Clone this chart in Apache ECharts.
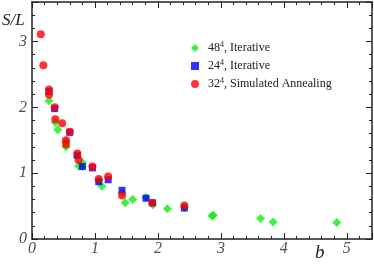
<!DOCTYPE html>
<html><head><meta charset="utf-8">
<script src="https://cdn.jsdelivr.net/npm/echarts@6/dist/echarts.min.js"></script>
<style>html,body{margin:0;padding:0;background:#fff}#c{width:374px;height:264px}</style>
</head><body><div id="c"></div>
<script>
// 48^4 iterative (green diamonds)
const greenX = [0.27,0.37,0.41,0.54,0.54,0.72,0.74,0.80,0.80,1.06,1.11,1.43,1.48,1.60,1.81,1.92,2.15,2.42,2.86,2.88,3.63,3.83,4.84];
const greenY = [2.10,1.77,1.66,1.48,1.40,1.25,1.11,1.16,1.10,0.89,0.80,0.70,0.55,0.60,0.63,0.52,0.46,0.48,0.35,0.36,0.31,0.26,0.25];
// 24^4 iterative (blue squares)
const blueX = [0.27,0.36,0.60,0.72,0.80,0.96,1.06,1.21,1.43,1.81,1.91,2.42];
const blueY = [2.24,1.98,1.62,1.27,1.10,1.08,0.87,0.90,0.74,0.62,0.55,0.47];
// 32^4 simulated annealing (red circles)
const redX = [0.14,0.18,0.27,0.27,0.36,0.37,0.48,0.54,0.54,0.60,0.72,0.74,0.96,1.06,1.21,1.43,1.91,2.42];
const redY = [3.11,2.64,2.27,2.19,2.00,1.82,1.76,1.50,1.44,1.63,1.30,1.20,1.10,0.91,0.95,0.66,0.55,0.51];
const seriesNames = ['48{s|4}, Iterative','24{s|4}, Iterative','32{s|4}, Simulated Annealing'];
const xTickLabels = ['0','1','2','3','4','5'];
const yTickLabels = ['0','1','2','3'];

const zip = (a,b) => a.map((v,i)=>[v,b[i]]);
const FONT = 'Liberation Serif';
const lineStyle = {color:'#222', width:1.5};
function axisBase(pos, max){
  return {
    type:'value', min:0, max:max, interval:1, position:pos,
    axisLine:{show:true, onZero:false, lineStyle:lineStyle},
    axisTick:{show:true, inside:true, length:6, lineStyle:{color:'#222', width:1}},
    minorTick:{show:true, splitNumber:5, length:3, lineStyle:{color:'#222', width:1}},
    splitLine:{show:false}, minorSplitLine:{show:false},
    axisLabel:{show:false}
  };
}
const tickLabelStyle = {show:true, fontFamily:FONT, fontStyle:'italic', fontSize:16, color:'#222',
  formatter:(p)=>p.data.label};
const chart = echarts.init(document.getElementById('c'), null, {renderer:'canvas'});
chart.setOption({
  animation:false,
  grid:{left:32, right:2, top:2, bottom:25, containLabel:false},
  xAxis:[axisBase('bottom',5.4), axisBase('top',5.4)],
  yAxis:[axisBase('left',3.6), axisBase('right',3.6)],
  legend:{
    orient:'vertical', left:186, top:36, itemWidth:8, itemHeight:8, itemGap:4,
    textStyle:{fontFamily:FONT, fontSize:12, color:'#222', padding:[0,0,0,4], lineHeight:14,
      rich:{s:{fontFamily:FONT, fontSize:8, color:'#222', padding:[0,0,6,0]}}},
    data:[
      {name:seriesNames[0], icon:'diamond'},
      {name:seriesNames[1], icon:'rect'},
      {name:seriesNames[2], icon:'circle'}
    ]
  },
  graphic:[
    {type:'text', left:2, top:12, style:{text:'S/L', fontFamily:FONT, fontStyle:'italic', fontSize:17, fill:'#222'}},
    {type:'text', left:315, top:243, style:{text:'b', fontFamily:FONT, fontStyle:'italic', fontSize:19, fill:'#222'}}
  ],
  series:[
    {name:seriesNames[0], type:'scatter', symbol:'diamond', symbolSize:9, itemStyle:{color:'#11ee11'}, data:zip(greenX,greenY), z:2},
    {name:seriesNames[1], type:'scatter', symbol:'rect', symbolSize:7, itemStyle:{color:'#0000ff'}, data:zip(blueX,blueY), z:3},
    {name:seriesNames[2], type:'scatter', symbol:'circle', symbolSize:8, itemStyle:{color:'#ff0000'}, data:zip(redX,redY), z:4},
    {name:'xticks', type:'scatter', symbolSize:0, clip:false, silent:true, z:5,
      label:Object.assign({position:'bottom', distance:2}, tickLabelStyle),
      data:xTickLabels.map(s=>({value:[Number(s),0], label:s}))},
    {name:'yticks', type:'scatter', symbolSize:0, clip:false, silent:true, z:5,
      label:Object.assign({position:'left', distance:5}, tickLabelStyle),
      data:yTickLabels.map(s=>({value:[0,Number(s)], label:s}))}
  ]
});
</script></body></html>
